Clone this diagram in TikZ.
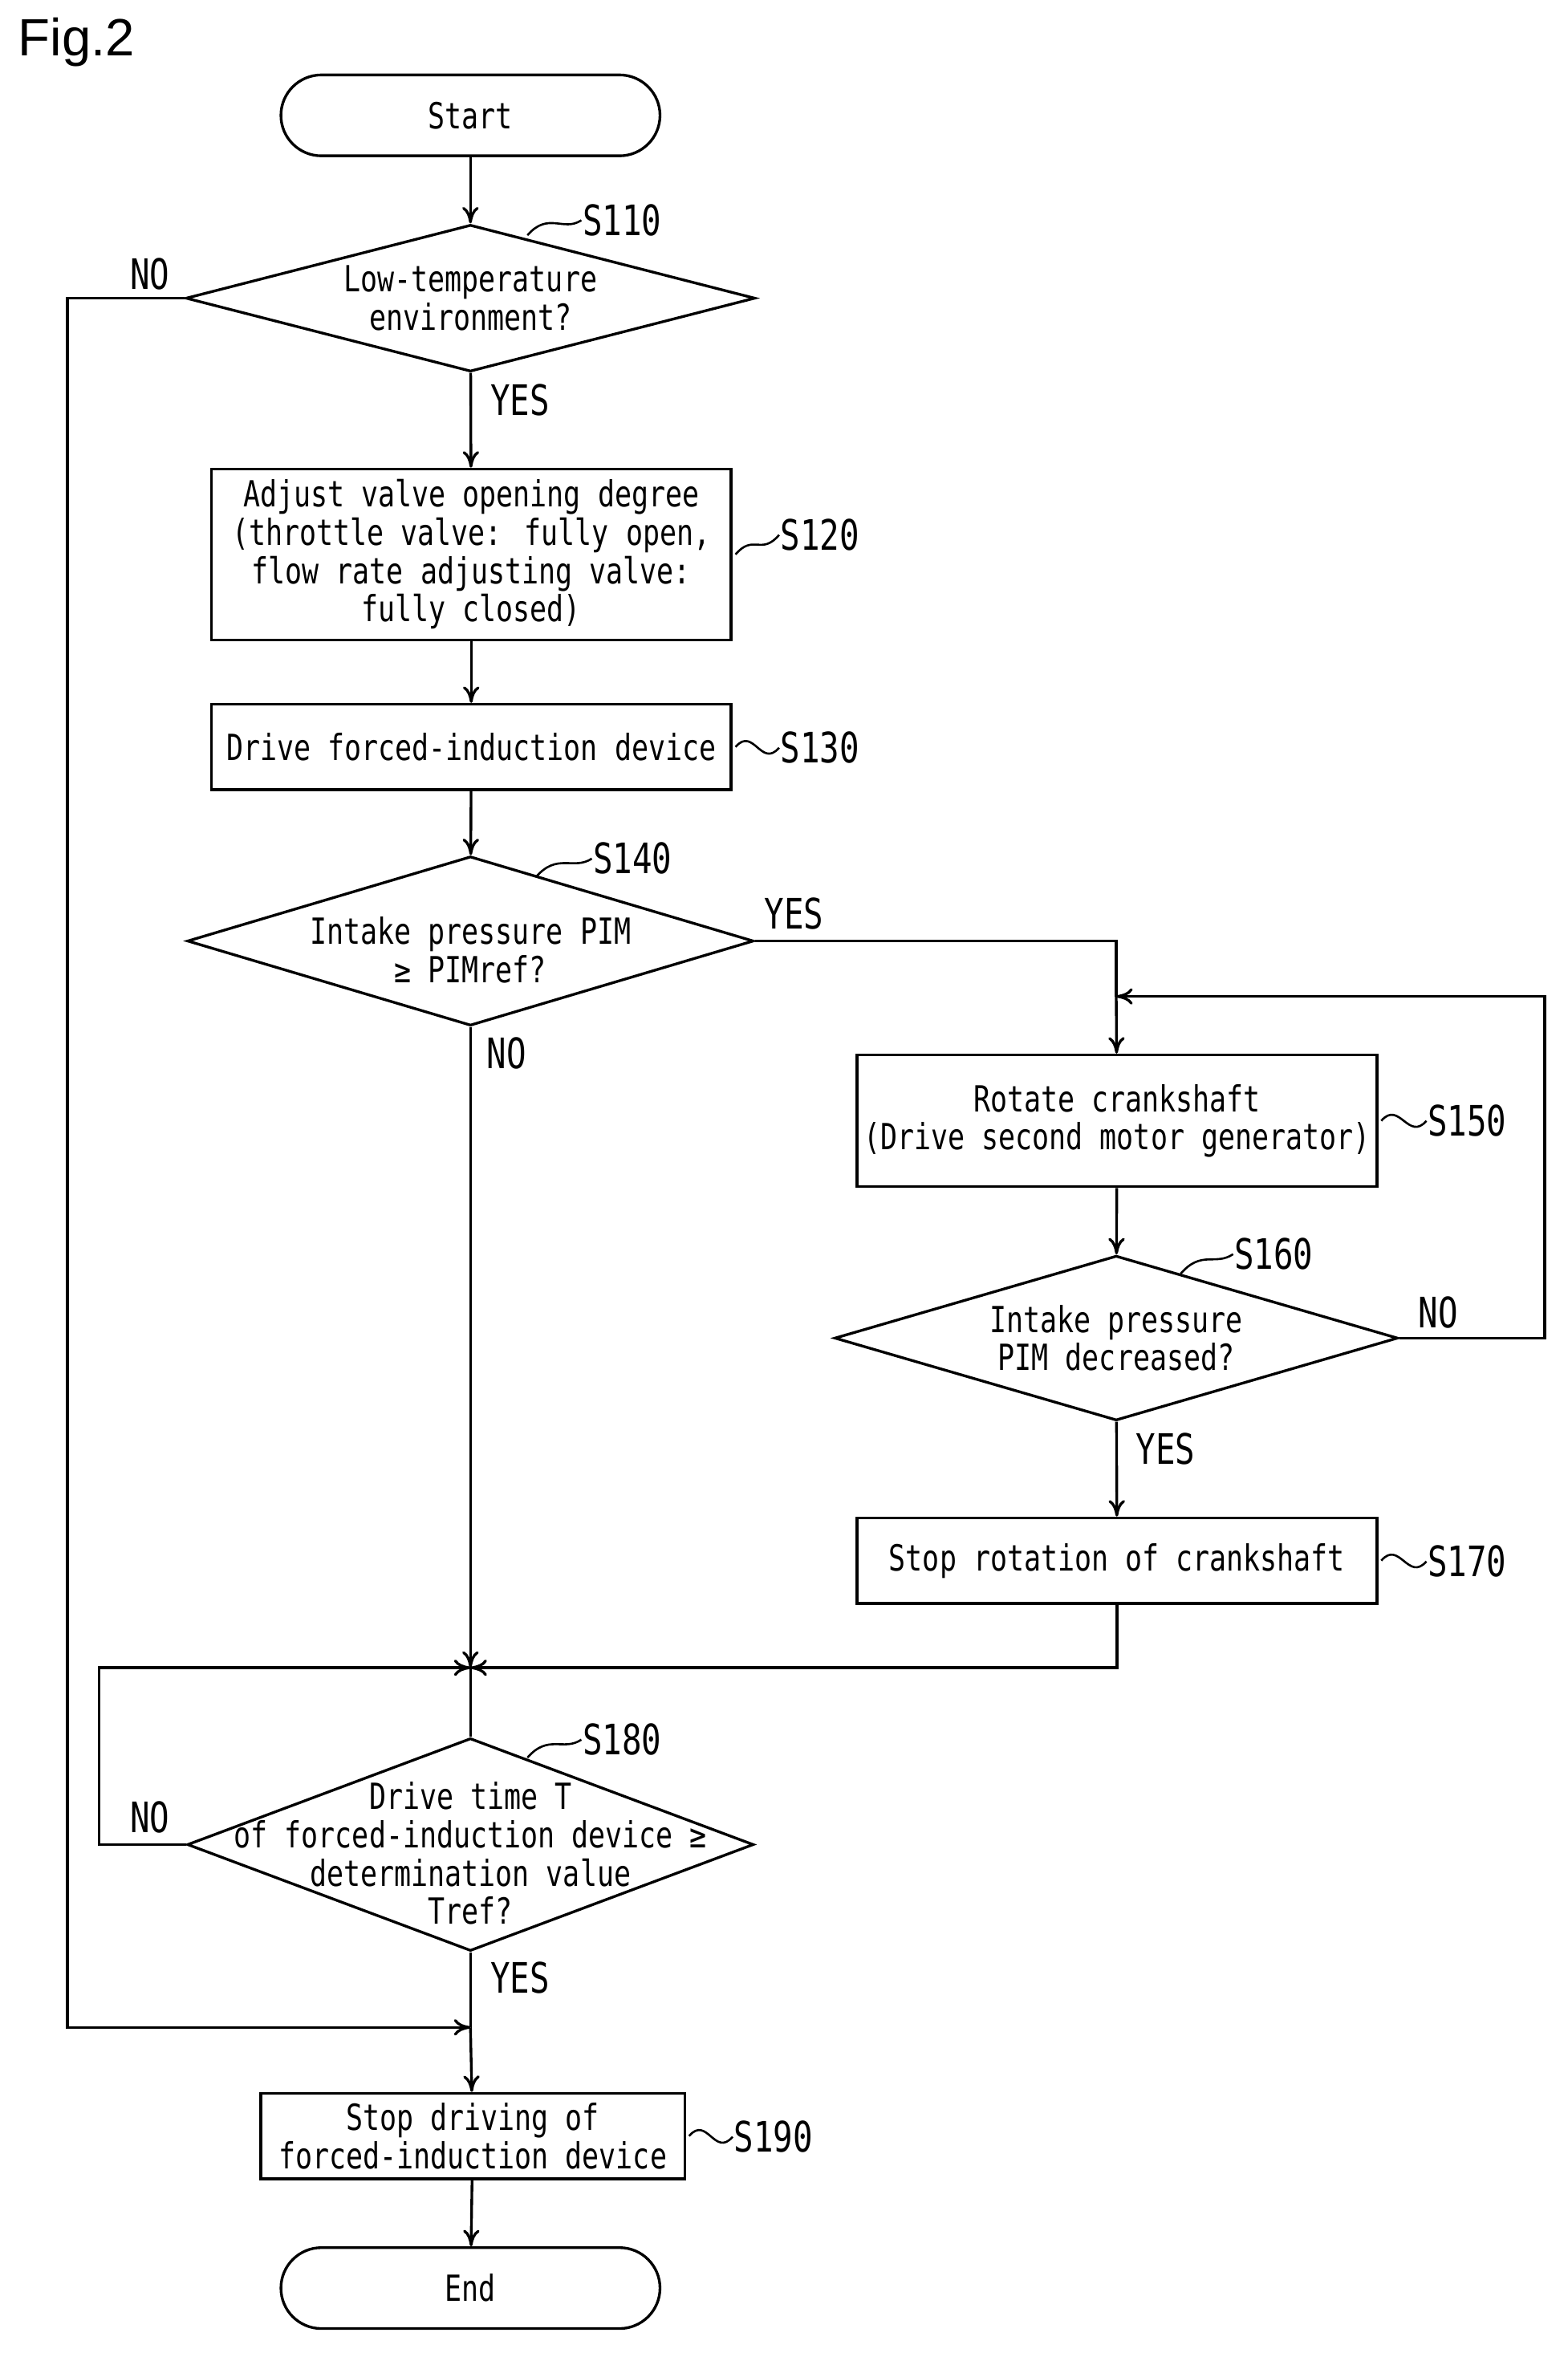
\documentclass[tikz,border=0pt]{standalone}
\usepackage{fontspec}
\setmainfont{DejaVu Sans Mono}[FakeStretch=0.78]
\newfontfamily\figfont{Liberation Sans}
\usetikzlibrary{shapes.geometric,arrows.meta}
\begin{document}
\begin{tikzpicture}[x=1pt,y=-1pt,line width=1.8pt,
  box/.style={draw,rectangle,inner sep=0,align=center,font=\fontsize{24}{25.5}\selectfont},
  dia/.style={draw,diamond,inner sep=0},
  txt/.style={align=center,font=\fontsize{24}{25.5}\selectfont,inner sep=0},
  lab/.style={font=\fontsize{28}{30}\selectfont,inner sep=0},
  arr/.style={-{To[length=11pt,width=11pt]}}]
\useasboundingbox (0,0) rectangle (1046,1573);
\node[font=\figfont\fontsize{35}{37}\selectfont,anchor=west] (fig) at (8,28) {Fig.2};
\node[draw,rounded corners=27pt,minimum width=253pt,minimum height=54pt,inner sep=0,txt] (start) at (314,77) {Start};
\node[dia,minimum width=380pt,minimum height=98pt] (s110) at (314,199) {};
\node[txt] (t110) at (314,199) {Low-temperature\\environment?};
\node[box,minimum width=347pt,minimum height=114pt] (s120) at (314.5,370) {Adjust valve opening degree\\(throttle valve: fully open,\\flow rate adjusting valve:\\fully closed)};
\node[box,minimum width=347pt,minimum height=57pt] (s130) at (314.5,498.5) {Drive forced-induction device};
\node[dia,minimum width=378pt,minimum height=113pt] (s140) at (314,628) {};
\node[txt] (t140) at (314,634) {Intake pressure PIM\\≥ PIMref?};
\node[box,minimum width=347pt,minimum height=88pt] (s150) at (745.5,748) {Rotate crankshaft\\(Drive second motor generator)};
\node[dia,minimum width=376pt,minimum height=110pt] (s160) at (745,893) {};
\node[txt] (t160) at (745,893) {Intake pressure\\PIM decreased?};
\node[box,minimum width=347pt,minimum height=57pt] (s170) at (745.5,1041.5) {Stop rotation of crankshaft};
\node[dia,minimum width=378pt,minimum height=142pt] (s180) at (314,1231) {};
\node[txt] (t180) at (314,1237) {Drive time T\\of forced-induction device ≥\\determination value\\Tref?};
\node[box,minimum width=283pt,minimum height=57pt] (s190) at (315.5,1425.5) {Stop driving of\\forced-induction device};
\node[draw,rounded corners=27pt,minimum width=253pt,minimum height=54pt,inner sep=0,txt] (end) at (314,1527) {End};
% labels
\node[lab,anchor=west] (l110) at (388,147) {S110};
\node[lab,anchor=west] (l120) at (520,357) {S120};
\node[lab,anchor=west] (l130) at (520,499) {S130};
\node[lab,anchor=west] (l140) at (395,573) {S140};
\node[lab,anchor=west] (l150) at (952,748) {S150};
\node[lab,anchor=west] (l160) at (823,837) {S160};
\node[lab,anchor=west] (l170) at (952,1042) {S170};
\node[lab,anchor=west] (l180) at (388,1161) {S180};
\node[lab,anchor=west] (l190) at (489,1426) {S190};
\foreach \a/\b in {l110/{(352,157)},l140/{(358,585)},l160/{(788,850)},l180/{(352,1173)}}{
  \draw[line width=1.4pt] \b .. controls +(14,-16) and +(-12,8) .. (\a.west);}
\foreach \a/\b in {l120/s120,l130/s130,l150/s150,l170/s170,l190/s190}{
  \draw[line width=1.4pt] (\b.east) ++(2,0) .. controls +(12,-14) and +(-12,14) .. (\a.west);}
\node[lab] (no1) at (100,183) {NO};
\node[lab] (yes1) at (347,267) {YES};
\node[lab] (yes2) at (530,610) {YES};
\node[lab] (no2) at (338,703) {NO};
\node[lab] (no3) at (960,876) {NO};
\node[lab] (yes3) at (778,967) {YES};
\node[lab] (no4) at (100,1213) {NO};
\node[lab] (yes4) at (347,1320) {YES};
% connectors
\coordinate (j1) at (314,1113);
\coordinate (j2) at (314,1353);
\coordinate (j3) at (745,665);
\draw[arr] (start) -- (s110);
\draw[arr] (s110) -- (s120);
\draw[arr] (s120) -- (s130);
\draw[arr] (s130) -- (s140);
\draw (s140.east) -| (j3);
\draw[arr] (j3) -- (s150);
\draw[arr] (s150) -- (s160);
\draw[arr] (s160.east) -- (1031,893) -- (1031,665) -- (j3);
\draw[arr] (s160) -- (s170);
\draw[arr] (s170.south) |- (j1);
\draw[arr] (s140.south) -- (j1);
\draw (j1) -- (s180.north);
\draw[arr] (s180.west) -- (66,1231) -- (66,1113) -- (j1);
\draw (s180.south) -- (j2);
\draw[arr] (s110.west) -- (45,199) -- (45,1353) -- (j2);
\draw[arr] (j2) -- (s190);
\draw[arr] (s190) -- (end);
\end{tikzpicture}
\end{document}
